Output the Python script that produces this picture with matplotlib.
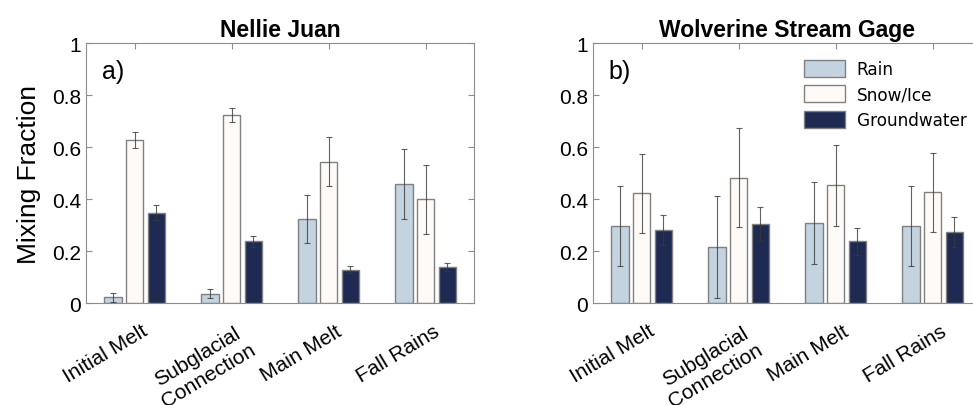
import matplotlib.pyplot as plt
import matplotlib.transforms as mtransforms
import numpy as np

# mixing fractions per melt stage (mean and one-sigma spread)
stages = ['Initial Melt', 'Subglacial\nConnection', 'Main Melt', 'Fall Rains']
sources = ['Rain', 'Snow/Ice', 'Groundwater']

nellie_rain = [0.022, 0.035, 0.323, 0.458]
nellie_snow = [0.627, 0.723, 0.544, 0.399]
nellie_gw = [0.347, 0.237, 0.128, 0.138]
nellie_rain_err = [0.017, 0.017, 0.094, 0.133]
nellie_snow_err = [0.029, 0.027, 0.094, 0.133]
nellie_gw_err = [0.029, 0.021, 0.013, 0.015]

wolv_rain = [0.297, 0.215, 0.308, 0.297]
wolv_snow = [0.422, 0.482, 0.453, 0.426]
wolv_gw = [0.281, 0.303, 0.237, 0.274]
wolv_rain_err = [0.153, 0.197, 0.157, 0.153]
wolv_snow_err = [0.151, 0.191, 0.155, 0.151]
wolv_gw_err = [0.059, 0.065, 0.051, 0.058]

colors = ['#c3d3e0', '#fefaf8', '#1e2a52']
EDGE = '#808080'
AXC = '#8c8c8c'

plt.rcParams['font.family'] = ['Liberation Sans', 'DejaVu Sans']

fig = plt.figure(figsize=(9.73, 4.06), dpi=100)
ax1 = fig.add_axes([0.0884, 0.2512, 0.3988, 0.6404])
ax2 = fig.add_axes([0.6095, 0.2512, 0.3988, 0.6404])

x = np.arange(1, len(stages) + 1)
width = 0.18
offset = 0.224
shift = mtransforms.ScaledTranslation(5 / 72, 0, fig.dpi_scale_trans)


def draw_panel(ax, vals, errs, title, tag):
    for i, (v, e) in enumerate(zip(vals, errs)):
        ax.bar(x + (i - 1) * offset, v, width, color=colors[i], edgecolor=EDGE,
               linewidth=1.0, label=sources[i], zorder=2)
        ax.errorbar(x + (i - 1) * offset, v, yerr=e, fmt='none', ecolor='#3a3a3a',
                    elinewidth=0.8, capsize=2.5, capthick=0.8, alpha=0.8, zorder=3)
    ax.set_xlim(0.5, 4.5)
    ax.set_ylim(0, 1)
    ax.set_yticks([0, 0.2, 0.4, 0.6, 0.8, 1])
    ax.set_yticklabels(['0', '0.2', '0.4', '0.6', '0.8', '1'])
    ax.set_xticks(x)
    ax.set_xticklabels(stages, rotation=31, ha='right', va='top',
                       rotation_mode='anchor', linespacing=1.15,
                       multialignment='center')
    ax.tick_params(axis='both', direction='in', colors=AXC, labelcolor='black',
                   labelsize=15, length=4, width=0.8, top=True, right=True)
    ax.tick_params(axis='x', pad=13)
    for lab in ax.get_xticklabels():
        lab.set_transform(lab.get_transform() + shift)
    for s in ax.spines.values():
        s.set_color(AXC)
        s.set_linewidth(0.8)
    ax.set_title(title, fontsize=16.5, fontweight='bold', pad=5)
    ax.text(0.04, 0.94, tag, transform=ax.transAxes, fontsize=18,
            ha='left', va='top')


draw_panel(ax1, [nellie_rain, nellie_snow, nellie_gw],
           [nellie_rain_err, nellie_snow_err, nellie_gw_err], 'Nellie Juan', 'a)')
draw_panel(ax2, [wolv_rain, wolv_snow, wolv_gw],
           [wolv_rain_err, wolv_snow_err, wolv_gw_err], 'Wolverine Stream Gage', 'b)')

ax1.set_ylabel('Mixing Fraction', fontsize=19, labelpad=8)

leg = ax2.legend(loc='upper left', bbox_to_anchor=(0.505, 0.995), frameon=False,
                 prop={'family': 'DejaVu Sans', 'size': 12.2},
                 handlelength=2.4, handleheight=1.2, labelspacing=0.42,
                 handletextpad=0.7)

fig.savefig('out.png', dpi=100)
